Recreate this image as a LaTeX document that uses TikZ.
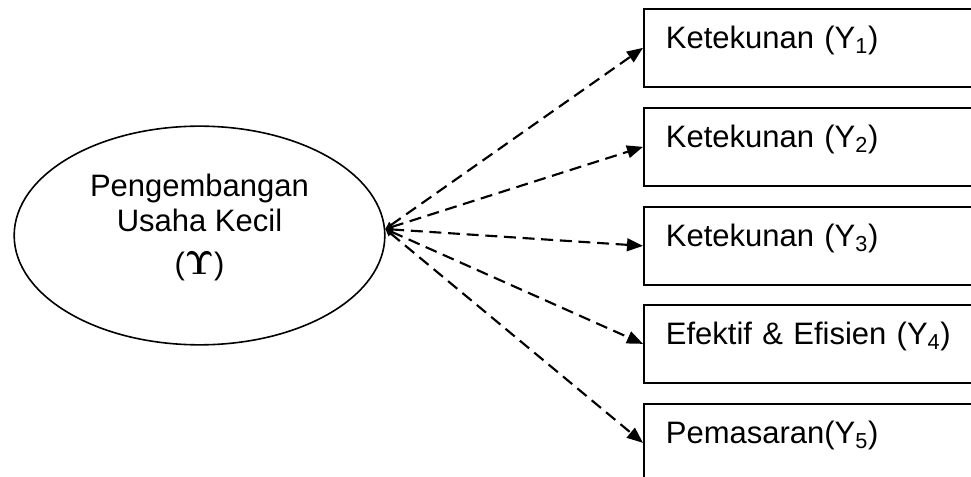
\documentclass[tikz,border=0pt]{standalone}
\usepackage{amsmath}
\usepackage{fontspec}
\setmainfont{Liberation Sans}
\usetikzlibrary{shapes.geometric,arrows.meta}
\tikzset{
    laten/.style={ellipse, draw, line width=1.2pt, minimum width=278pt,
        minimum height=164pt, inner sep=0pt, align=center,
        text depth=17pt, font=\fontsize{23.25}{26.5}\selectfont},
    indikator/.style={rectangle, draw, line width=1.3pt, anchor=north west,
        text width=222pt, align=left, inner xsep=16.5pt, inner ysep=0pt,
        text height=30pt, text depth=28.5pt,
        font=\fontsize{23.25}{27}\selectfont},
    muatan/.style={dash pattern=on 9pt off 5pt, line width=1.6pt,
        {Triangle[length=5.5pt,width=5pt]}-{Triangle[length=12pt,width=9.5pt]}}
}

\begin{document}
\begin{tikzpicture}[x=0.75pt,y=-0.75pt]
        \clip (0,0) rectangle (971,477);

        % variabel laten
        \node[laten] (pu) at (199.5,235.5) {Pengembangan\\Usaha Kecil\\[6pt]($\boldsymbol{\Upsilon}$)};

        % indikator
        \node[indikator] (y1) at (643,8) {Ketekunan (Y\textsubscript{1})};
        \node[indikator] (y2) at (643,107) {Ketekunan (Y\textsubscript{2})};
        \node[indikator] (y3) at (643,206) {Ketekunan (Y\textsubscript{3})};
        \node[indikator] (y4) at (643,304) {Efektif \& Efisien (Y\textsubscript{4})};
        \node[indikator] (y5) at (643,403) {Pemasaran(Y\textsubscript{5})};

        \foreach \i in {1,...,5}
            \draw[muatan] (pu.2) -- (y\i.west);
\end{tikzpicture}
\end{document}
